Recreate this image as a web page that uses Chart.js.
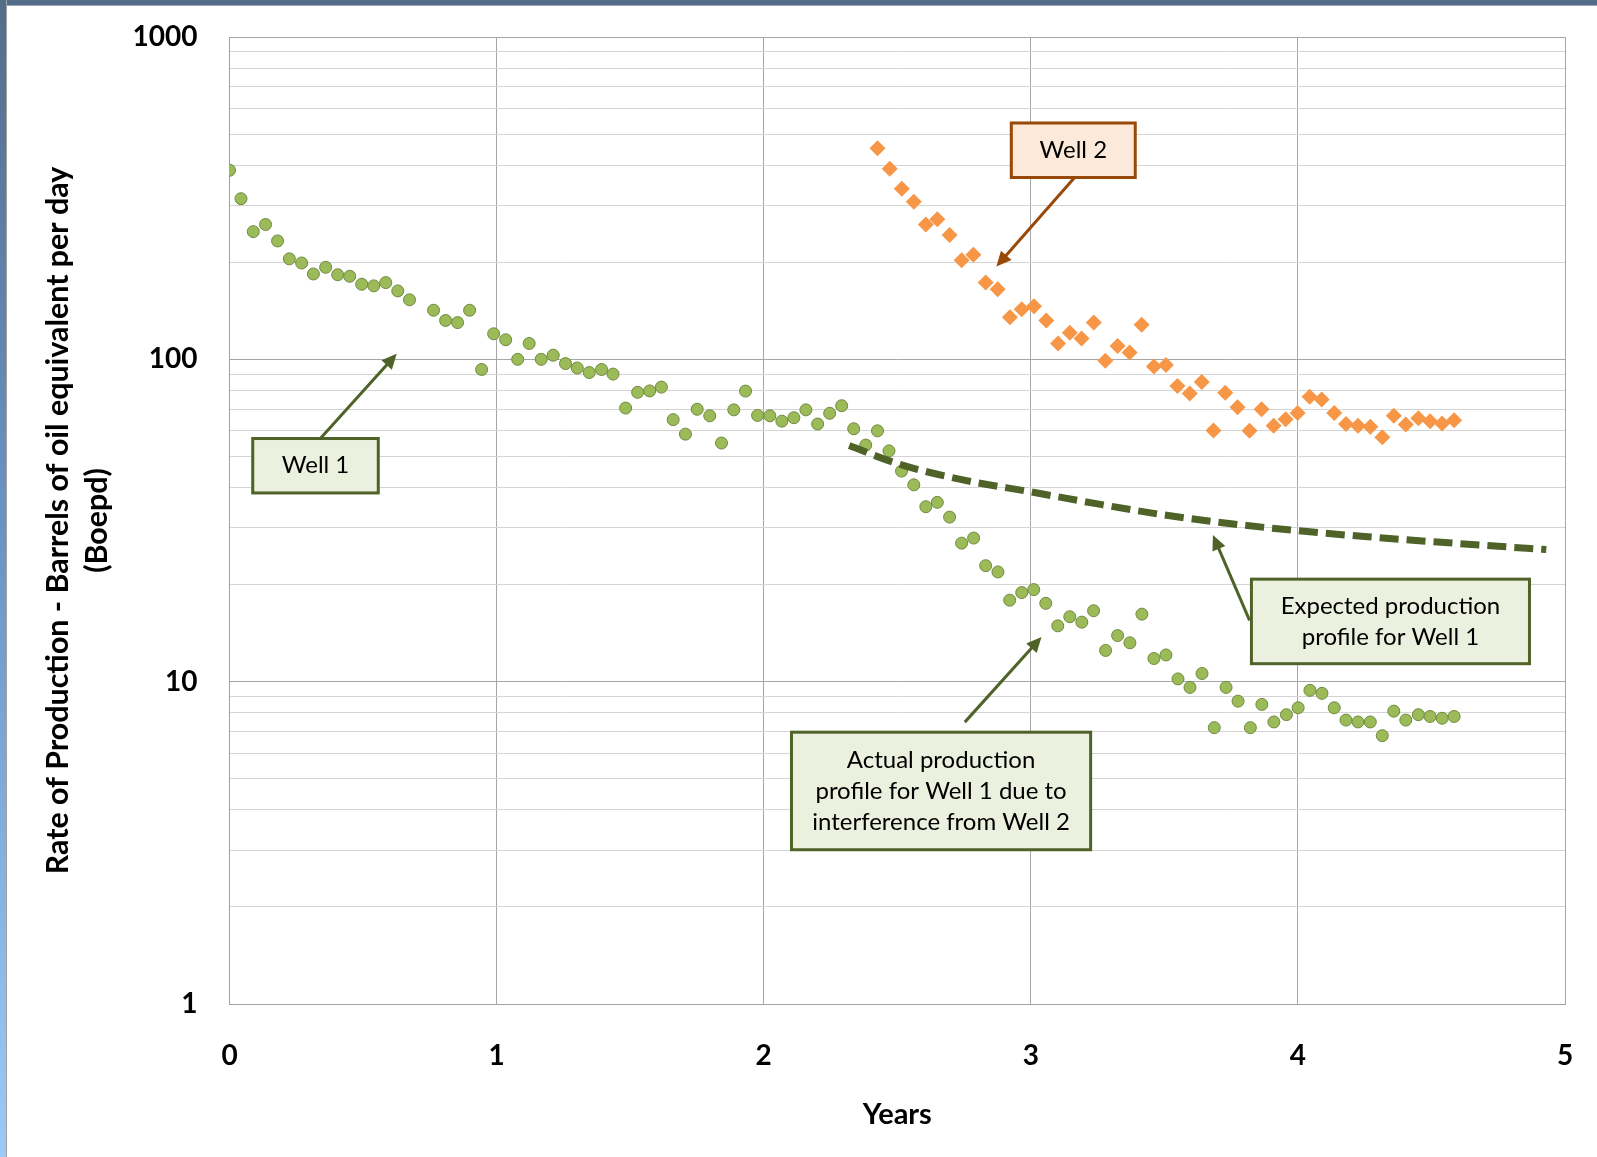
<!DOCTYPE html>
<html>
<head>
<meta charset="utf-8">
<title>Well interference</title>
<script src="https://cdn.jsdelivr.net/npm/chart.js@4.4.1/dist/chart.umd.min.js"></script>
<style>
  html, body { margin: 0; padding: 0; background: #fff; }
  #wrap { position: relative; width: 1597px; height: 1157px; overflow: hidden; }
  #production { position: absolute; left: 0; top: 0; }
  #topbar { position: absolute; left: 0; top: 0; width: 1597px; height: 5px; background: #546d8a; border-bottom: 1px solid #9aa5b1; }
  #sidebar { position: absolute; left: 0; top: 0; width: 6px; height: 1157px; background: linear-gradient(#546d8a, #6a93c4 45%, #9ccaf8); border-right: 1px solid #a0a0a0; }
</style>
</head>
<body>
<div id="wrap">
  <canvas id="production" width="1597" height="1157"></canvas>
  <div id="topbar"></div>
  <div id="sidebar"></div>
</div>
<script>
// Well 1 - measured rate (Boepd)
const wellOneYears = [0.000,0.043,0.089,0.135,0.180,0.224,0.270,0.314,0.360,0.405,0.450,0.495,0.540,0.585,0.630,0.674,
  0.764,0.809,0.854,0.899,0.944,0.989,1.034,1.079,1.122,1.167,1.212,1.258,1.302,1.347,1.393,1.436,1.483,1.528,1.573,1.617,
  1.661,1.707,1.751,1.798,1.842,1.888,1.932,1.977,2.023,2.068,2.113,2.158,2.202,2.247,2.292,2.337,2.382,2.426,2.469,2.516,
  2.562,2.607,2.650,2.696,2.741,2.786,2.831,2.877,2.921,2.966,3.011,3.056,3.101,3.146,3.191,3.235,3.280,3.325,3.371,3.416,
  3.461,3.506,3.551,3.596,3.641,3.687,3.731,3.776,3.822,3.865,3.910,3.957,4.001,4.045,4.090,4.136,4.180,4.225,4.271,4.316,
  4.359,4.404,4.451,4.495,4.540,4.585]
const wellOneRate = [386,315,249,262,233,205,199,184,193,183,181,171,169,173,163,153,
  142,132,130,142,93,120,115,100,112,100,103,97,94,91,93,90,70.6,79,79.8,82,
  65,58.6,70,66.8,55,69.7,79.7,67,66.8,64.3,65.9,69.7,63,68,71.8,60.9,54.2,60,52,45,
  40.8,34.9,36,32.4,26.9,27.9,22.9,21.9,17.9,18.9,19.3,17.5,14.9,15.9,15.3,16.6,12.5,13.9,13.2,16.2,
  11.8,12.1,10.2,9.6,10.6,7.2,9.6,8.7,7.2,8.5,7.5,7.9,8.3,9.4,9.2,8.3,7.6,7.5,7.5,6.8,
  8.1,7.6,7.9,7.8,7.7,7.8]

// Well 2 - measured rate (Boepd)
const wellTwoYears = [2.426,2.472,2.517,2.562,2.607,2.650,2.696,2.741,2.785,2.831,2.876,2.922,2.966,3.012,3.058,3.102,
  3.146,3.190,3.236,3.279,3.325,3.370,3.415,3.461,3.506,3.549,3.595,3.640,3.684,3.728,3.774,3.819,3.864,3.909,3.954,3.999,
  4.044,4.089,4.136,4.180,4.225,4.271,4.316,4.359,4.404,4.451,4.495,4.540,4.585]
const wellTwoRate = [452,390,338,308,262,272,243,203,211,173,165,135,143,146,132,112,
  121,116,130,99,110,105,128,95,96,82.6,78.3,85.1,60.2,78.7,71,60,70,62.2,65.2,68.2,
  76.6,75.1,68.2,63,62.2,61.8,57.3,66.8,62.8,65.6,64.3,63.2,64.7]

// expected profile for Well 1 (dashed curve)
const expectedYears = [2.32,2.5,2.75,3.0,3.25,3.5,3.75,4.0,4.25,4.5,4.75,4.93]
const expectedRate = [54,47.5,42.2,38.8,35.6,32.9,30.9,29.4,28.2,27.2,26.3,25.7]

// axis ticks
const yearTicks = [0,1,2,3,4,5]
const rateMajor = [1,10,100,1000]
const rateMultipliers = [1,2,3,4,5,6,7,8,9]

const rateTicks = []
rateMajor.forEach(m => {
  if (m === 1000) { rateTicks.push(m); return }
  rateMultipliers.forEach(k => rateTicks.push(m * k))
})

const pairs = (xs, ys) => xs.map((x, i) => ({x: x, y: ys[i]}))

// callouts, anchored in data units
const callouts = [
  {lines: ['Well 1'], box: [0.087, 56.8, 0.557, 38.5], from: [0.340, 56.8], to: [0.626, 104], fill: '#ebf1de', edge: '#4f6228'},
  {lines: ['Well 2'], box: [2.927, 541, 3.391, 366.5], from: [3.164, 366.5], to: [2.871, 194], fill: '#fde9d9', edge: '#984807'},
  {lines: ['Expected production', 'profile for Well 1'], box: [3.826, 20.8, 4.867, 11.37], from: [3.819, 15.5], to: [3.682, 28.5], fill: '#ebf1de', edge: '#4f6228'},
  {lines: ['Actual production', 'profile for Well 1 due to', 'interference from Well 2'], box: [2.104, 6.97, 3.224, 3.01], from: [2.753, 7.49], to: [3.040, 13.75], fill: '#ebf1de', edge: '#4f6228'}
]

const calloutPlugin = {
  id: 'callouts',
  afterDatasetsDraw(chart) {
    const {ctx, scales: {x, y}} = chart
    ctx.save()
    callouts.forEach(c => {
      // arrow
      const x1 = x.getPixelForValue(c.from[0]), y1 = y.getPixelForValue(c.from[1])
      const x2 = x.getPixelForValue(c.to[0]), y2 = y.getPixelForValue(c.to[1])
      const ang = Math.atan2(y2 - y1, x2 - x1)
      const head = 15
      ctx.strokeStyle = c.edge
      ctx.fillStyle = c.edge
      ctx.lineWidth = 3
      ctx.beginPath()
      ctx.moveTo(x1, y1)
      ctx.lineTo(x2 - Math.cos(ang) * head * 0.8, y2 - Math.sin(ang) * head * 0.8)
      ctx.stroke()
      ctx.beginPath()
      ctx.moveTo(x2, y2)
      ctx.lineTo(x2 - Math.cos(ang) * head + Math.sin(ang) * 7, y2 - Math.sin(ang) * head - Math.cos(ang) * 7)
      ctx.lineTo(x2 - Math.cos(ang) * head - Math.sin(ang) * 7, y2 - Math.sin(ang) * head + Math.cos(ang) * 7)
      ctx.closePath()
      ctx.fill()
      // box
      const bx = x.getPixelForValue(c.box[0]), by = y.getPixelForValue(c.box[1])
      const bw = x.getPixelForValue(c.box[2]) - bx, bh = y.getPixelForValue(c.box[3]) - by
      ctx.fillStyle = c.fill
      ctx.fillRect(bx, by, bw, bh)
      ctx.lineWidth = 3
      ctx.strokeRect(bx, by, bw, bh)
      // text
      ctx.fillStyle = '#000'
      ctx.font = '24px Lato'
      ctx.textAlign = 'center'
      ctx.textBaseline = 'middle'
      const lh = 31
      const cy = by + bh / 2 - (c.lines.length - 1) * lh / 2
      c.lines.forEach((t, i) => ctx.fillText(t, bx + bw / 2, cy + i * lh))
    })
    ctx.restore()
  }
}

new Chart(document.getElementById('production'), {
  type: 'scatter',
  data: {
    datasets: [
      {
        label: 'Expected Well 1',
        data: pairs(expectedYears, expectedRate),
        showLine: true,
        borderColor: '#4f6228',
        borderWidth: 7,
        borderDash: [19, 8],
        pointRadius: 0,
        cubicInterpolationMode: 'monotone',
        order: 0
      },
      {
        label: 'Well 1',
        data: pairs(wellOneYears, wellOneRate),
        backgroundColor: '#9bbb59',
        borderColor: '#71893f',
        borderWidth: 1,
        pointRadius: 6,
        order: 2
      },
      {
        label: 'Well 2',
        data: pairs(wellTwoYears, wellTwoRate),
        backgroundColor: '#f79646',
        borderColor: '#f79646',
        borderWidth: 0,
        pointStyle: 'rectRot',
        pointRadius: 8,
        order: 1
      }
    ]
  },
  options: {
    responsive: false,
    animation: false,
    layout: {padding: {top: 37, right: 32, bottom: 0, left: 0}},
    plugins: {
      legend: {display: false},
      tooltip: {enabled: false}
    },
    scales: {
      x: {
        type: 'linear',
        min: 0,
        max: 5,
        afterFit: s => { s.height = 153; s.paddingLeft = 0; s.paddingRight = 0 },
        afterBuildTicks: s => { s.ticks = yearTicks.map(v => ({value: v})) },
        grid: {color: '#a6a6a6', drawTicks: false},
        border: {color: '#a0a0a0'},
        ticks: {
          padding: 35,
          color: '#000',
          font: {family: 'Lato', size: 28, weight: 'bold'}
        },
        title: {
          display: true,
          text: 'Years',
          color: '#000',
          font: {family: 'Lato', size: 29, weight: 'bold'},
          padding: {top: 0, bottom: 25}
        }
      },
      y: {
        type: 'logarithmic',
        min: 1,
        max: 1000,
        afterFit: s => { s.width = 229.5; s.paddingTop = 0; s.paddingBottom = 0 },
        afterBuildTicks: s => { s.ticks = rateTicks.map(v => ({value: v})) },
        grid: {
          drawTicks: false,
          color: c => rateMajor.includes(c.tick && c.tick.value) ? '#a6a6a6' : '#d4d4d4'
        },
        border: {color: '#a0a0a0'},
        ticks: {
          autoSkip: false,
          padding: 32,
          color: '#000',
          font: {family: 'Lato', size: 28, weight: 'bold'},
          callback: v => rateMajor.includes(v) ? String(v) : ''
        },
        title: {
          display: true,
          text: ['Rate of Production - Barrels of oil equivalent per day', '(Boepd)'],
          color: '#000',
          font: {family: 'Lato', size: 30.4, weight: 'bold', lineHeight: 1.28},
          padding: {top: 38.5, bottom: 0}
        }
      }
    }
  },
  plugins: [calloutPlugin]
})
</script>
</body>
</html>
